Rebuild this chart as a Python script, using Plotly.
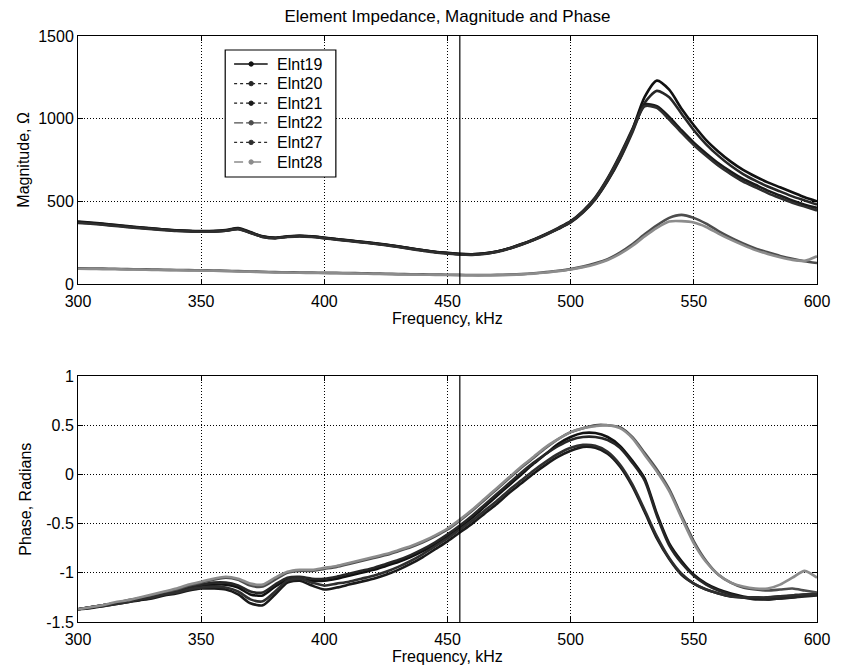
import plotly.graph_objects as go

# ---------------- data ----------------
freq = list(range(300, 605, 5))  # kHz
series_names = ["Elnt19", "Elnt20", "Elnt21", "Elnt22", "Elnt27", "Elnt28"]
marker_freq = 455

mag_elnt19 = [378, 372, 365, 358, 350, 343, 337, 330, 325, 322, 320, 320, 324, 335, 312, 288, 280, 288, 292, 288,
              280, 272, 264, 256, 247, 238, 228, 216, 205, 195, 188, 182, 180, 185, 196, 215, 240, 268, 300, 335,
              375, 435, 515, 625, 760, 930, 1130, 1230, 1175, 1060, 960, 870, 800, 740, 690, 650, 615, 585, 555, 525, 500]
mag_elnt20 = [372, 367, 361, 354, 347, 340, 334, 328, 323, 320, 318, 319, 323, 333, 310, 285, 278, 286, 290, 286,
              278, 270, 262, 254, 245, 236, 226, 214, 203, 193, 186, 180, 178, 183, 195, 214, 238, 266, 298, 333,
              372, 432, 512, 622, 755, 915, 1095, 1168, 1130, 1030, 930, 845, 775, 715, 665, 625, 590, 560, 530, 505, 480]
mag_elnt21 = [375, 369, 362, 355, 348, 341, 335, 329, 324, 321, 319, 320, 326, 338, 314, 287, 279, 287, 291, 287,
              279, 271, 263, 255, 246, 237, 227, 215, 204, 194, 187, 181, 179, 184, 196, 216, 242, 270, 303, 340,
              380, 442, 525, 640, 780, 935, 1085, 1075, 1010, 930, 855, 790, 730, 680, 635, 600, 565, 535, 505, 480, 460]
mag_elnt27 = [370, 364, 358, 351, 344, 338, 332, 326, 321, 318, 316, 317, 322, 332, 309, 284, 276, 284, 288, 284,
              276, 268, 260, 252, 243, 234, 224, 212, 201, 191, 184, 178, 176, 181, 193, 213, 239, 267, 300, 337,
              377, 438, 520, 635, 772, 925, 1075, 1065, 995, 915, 840, 775, 715, 665, 620, 585, 550, 520, 492, 468, 445]
mag_elnt22 = [95, 94, 93, 92, 90, 89, 88, 86, 85, 84, 83, 82, 80, 78, 76, 74, 72, 71, 70, 69,
              68, 67, 66, 65, 63, 62, 60, 59, 58, 57, 56, 55, 54, 54, 55, 57, 60, 65, 72, 80,
              90, 105, 125, 150, 190, 240, 300, 355, 400, 418, 400, 365, 320, 280, 245, 215, 192, 170, 152, 138, 127]
mag_elnt28 = [92, 91, 90, 89, 88, 87, 85, 84, 83, 82, 81, 80, 78, 76, 74, 72, 70, 69, 68, 67,
              66, 65, 64, 63, 61, 60, 58, 57, 56, 55, 54, 53, 52, 52, 53, 55, 58, 63, 70, 78,
              88, 102, 120, 145, 182, 230, 288, 340, 378, 380, 372, 345, 305, 268, 235, 205, 182, 162, 146, 140, 168]

ph_elnt19 = [-1.37, -1.35, -1.33, -1.31, -1.29, -1.26, -1.24, -1.21, -1.18, -1.15, -1.13, -1.12, -1.12, -1.15, -1.22, -1.23, -1.14, -1.07, -1.06, -1.08,
             -1.08, -1.06, -1.03, -1.00, -0.97, -0.93, -0.89, -0.84, -0.78, -0.71, -0.63, -0.54, -0.44, -0.33, -0.22, -0.11, 0.00, 0.11, 0.21, 0.31,
             0.38, 0.42, 0.42, 0.38, 0.29, 0.14, -0.04, -0.40, -0.70, -0.88, -1.02, -1.11, -1.17, -1.21, -1.24, -1.26, -1.27, -1.26, -1.25, -1.23, -1.22]
ph_elnt20 = [-1.37, -1.35, -1.33, -1.31, -1.29, -1.26, -1.24, -1.21, -1.18, -1.15, -1.12, -1.10, -1.10, -1.13, -1.19, -1.20, -1.12, -1.05, -1.04, -1.06,
             -1.06, -1.04, -1.01, -0.98, -0.95, -0.91, -0.87, -0.82, -0.76, -0.69, -0.61, -0.52, -0.42, -0.31, -0.20, -0.09, 0.02, 0.12, 0.21, 0.29,
             0.35, 0.38, 0.38, 0.35, 0.27, 0.12, -0.06, -0.42, -0.72, -0.90, -1.03, -1.12, -1.18, -1.22, -1.25, -1.27, -1.27, -1.26, -1.25, -1.24, -1.23]
ph_elnt21 = [-1.37, -1.36, -1.34, -1.32, -1.30, -1.28, -1.26, -1.23, -1.21, -1.18, -1.16, -1.16, -1.17, -1.22, -1.31, -1.33, -1.22, -1.10, -1.08, -1.13,
             -1.17, -1.15, -1.12, -1.09, -1.06, -1.02, -0.97, -0.91, -0.84, -0.76, -0.68, -0.59, -0.50, -0.40, -0.30, -0.19, -0.09, 0.01, 0.10, 0.18,
             0.24, 0.28, 0.27, 0.21, 0.08, -0.12, -0.38, -0.65, -0.86, -1.02, -1.11, -1.17, -1.21, -1.24, -1.25, -1.26, -1.25, -1.24, -1.23, -1.22, -1.22]
ph_elnt27 = [-1.37, -1.35, -1.34, -1.32, -1.30, -1.27, -1.25, -1.22, -1.20, -1.17, -1.15, -1.14, -1.15, -1.19, -1.27, -1.29, -1.19, -1.08, -1.06, -1.10,
             -1.13, -1.11, -1.09, -1.06, -1.03, -0.99, -0.94, -0.88, -0.81, -0.73, -0.65, -0.56, -0.47, -0.37, -0.27, -0.16, -0.06, 0.04, 0.13, 0.21,
             0.27, 0.30, 0.29, 0.23, 0.10, -0.10, -0.36, -0.63, -0.85, -1.01, -1.11, -1.17, -1.21, -1.24, -1.25, -1.25, -1.25, -1.24, -1.23, -1.22, -1.22]
ph_elnt22 = [-1.37, -1.35, -1.33, -1.31, -1.28, -1.26, -1.23, -1.20, -1.17, -1.13, -1.10, -1.07, -1.05, -1.07, -1.13, -1.14, -1.07, -1.00, -0.98, -0.98,
             -0.96, -0.94, -0.91, -0.88, -0.85, -0.82, -0.78, -0.74, -0.69, -0.63, -0.56, -0.47, -0.37, -0.26, -0.15, -0.04, 0.07, 0.17, 0.27, 0.36,
             0.43, 0.47, 0.50, 0.50, 0.48, 0.38, 0.22, 0.05, -0.15, -0.42, -0.68, -0.88, -1.02, -1.10, -1.15, -1.17, -1.18, -1.17, -1.16, -1.18, -1.20]
ph_elnt28 = [-1.37, -1.35, -1.33, -1.30, -1.28, -1.25, -1.22, -1.19, -1.16, -1.12, -1.09, -1.06, -1.04, -1.06, -1.11, -1.12, -1.05, -0.99, -0.97, -0.97,
             -0.95, -0.93, -0.90, -0.87, -0.84, -0.81, -0.77, -0.73, -0.68, -0.62, -0.55, -0.46, -0.36, -0.25, -0.14, -0.03, 0.08, 0.18, 0.28, 0.36,
             0.43, 0.47, 0.49, 0.50, 0.47, 0.37, 0.20, 0.03, -0.17, -0.44, -0.70, -0.89, -1.02, -1.10, -1.14, -1.16, -1.16, -1.12, -1.05, -0.98, -1.05]

mag_ticks = [0, 500, 1000, 1500]
phase_ticks = [-1.5, -1, -0.5, 0, 0.5, 1]
phase_tick_text = ["-1.5", "-1", "-0.5", "0", "0.5", "1"]
freq_ticks = [300, 350, 400, 450, 500, 550, 600]

mags = [mag_elnt19, mag_elnt20, mag_elnt21, mag_elnt22, mag_elnt27, mag_elnt28]
phases = [ph_elnt19, ph_elnt20, ph_elnt21, ph_elnt22, ph_elnt27, ph_elnt28]

# ---------------- styles ----------------
colors = ["#111111", "#262626", "#1a1a1a", "#4d4d4d", "#2e2e2e", "#8c8c8c"]
legend_dash = ["solid", "dot", "dot", "dashdot", "dot", "dash"]
FONT = "Liberation Sans, Arial, Helvetica, sans-serif"
FS = 16

fig = go.Figure()
for name, m, p, c in zip(series_names, mags, phases, colors):
    fig.add_trace(go.Scatter(x=freq, y=m, xaxis="x", yaxis="y", mode="lines",
                             line=dict(color=c, width=2.6, shape="spline", smoothing=0.7),
                             showlegend=False, name=name))
    fig.add_trace(go.Scatter(x=freq, y=p, xaxis="x2", yaxis="y2", mode="lines",
                             line=dict(color=c, width=2.6, shape="spline", smoothing=0.7),
                             showlegend=False, name=name))

# pixel helpers for layout: plot area x 78..826, y 36..622
L, R, T, B = 78, 16, 36, 48
W, H = 842, 670
PW, PH = W - L - R, H - T - B
def px_x(px):
    return (px - L) / PW
def px_y(py):
    return (H - B - py) / PH

axis_common = dict(showline=True, linecolor="black", linewidth=1, mirror="ticks",
                   ticks="inside", ticklen=5, tickcolor="black",
                   showgrid=True, gridcolor="black", gridwidth=1, griddash="1px,2px",
                   zeroline=False, tickfont=dict(family=FONT, size=FS, color="black"))

fig.update_layout(
    width=W, height=H,
    margin=dict(l=L, r=R, t=T, b=B),
    paper_bgcolor="white", plot_bgcolor="white",
    font=dict(family=FONT, size=FS, color="black"),
    title=dict(text="Element Impedance, Magnitude and Phase", x=0.5, xref="paper",
               y=1 - 16 / H, yref="container", xanchor="center", yanchor="middle",
               font=dict(family=FONT, size=17, color="black")),
    xaxis=dict(domain=[0, 1], anchor="y", range=[300, 600], tickvals=freq_ticks,
               ticklabelstandoff=3, **axis_common),
    yaxis=dict(domain=[px_y(284), px_y(36)], anchor="x", range=[0, 1500], tickvals=mag_ticks,
               **axis_common),
    xaxis2=dict(domain=[0, 1], anchor="y2", range=[300, 600], tickvals=freq_ticks,
                ticklabelstandoff=3, **axis_common),
    yaxis2=dict(domain=[px_y(622), px_y(376)], anchor="x2", range=[-1.5, 1], tickvals=phase_ticks,
                ticktext=phase_tick_text, **axis_common),
    showlegend=False,
)

# vertical marker line at marker frequency, both panels
for xr, yr in (("x", "y domain"), ("x2", "y2 domain")):
    fig.add_shape(type="line", xref=xr, yref=yr, x0=marker_freq, x1=marker_freq, y0=0, y1=1,
                  line=dict(color="black", width=1.2), layer="above")

# custom legend box (drawn in paper coords so spacing matches the reference)
leg_left, leg_right, leg_top, leg_bottom = 227, 339, 50, 177
fig.add_shape(type="rect", xref="paper", yref="paper",
              x0=px_x(leg_left), x1=px_x(leg_right), y0=px_y(leg_bottom), y1=px_y(leg_top),
              line=dict(color="black", width=1.2), fillcolor="white", layer="above")
row_h = 19.6
for i, (name, c, d) in enumerate(zip(series_names, colors, legend_dash)):
    yc = leg_top + 14 + i * row_h
    fig.add_shape(type="line", xref="paper", yref="paper",
                  x0=px_x(236), x1=px_x(270), y0=px_y(yc), y1=px_y(yc),
                  line=dict(color=c, width=1.3, dash=d), layer="above")
    fig.add_shape(type="circle", xref="paper", yref="paper",
                  x0=px_x(251), x1=px_x(255.5), y0=px_y(yc + 2.2), y1=px_y(yc - 2.2),
                  line=dict(color=c, width=1), fillcolor=c, layer="above")
    fig.add_annotation(text=name, xref="paper", yref="paper", x=px_x(277), y=px_y(yc),
                       xanchor="left", yanchor="middle", showarrow=False,
                       font=dict(family=FONT, size=FS, color="black"))

# axis titles as annotations
ann_font = dict(family=FONT, size=FS, color="black")
fig.add_annotation(text="Magnitude, \u03a9", xref="paper", yref="paper", x=px_x(22), y=px_y(160),
                   textangle=-90, showarrow=False, font=ann_font, xanchor="center", yanchor="middle")
fig.add_annotation(text="Phase, Radians", xref="paper", yref="paper", x=px_x(24), y=px_y(499),
                   textangle=-90, showarrow=False, font=ann_font, xanchor="center", yanchor="middle")
fig.add_annotation(text="Frequency, kHz", xref="paper", yref="paper", x=0.5, y=px_y(318),
                   showarrow=False, font=ann_font, xanchor="center", yanchor="middle")
fig.add_annotation(text="Frequency, kHz", xref="paper", yref="paper", x=0.5, y=px_y(657),
                   showarrow=False, font=ann_font, xanchor="center", yanchor="middle")

fig.write_html("out.html")
